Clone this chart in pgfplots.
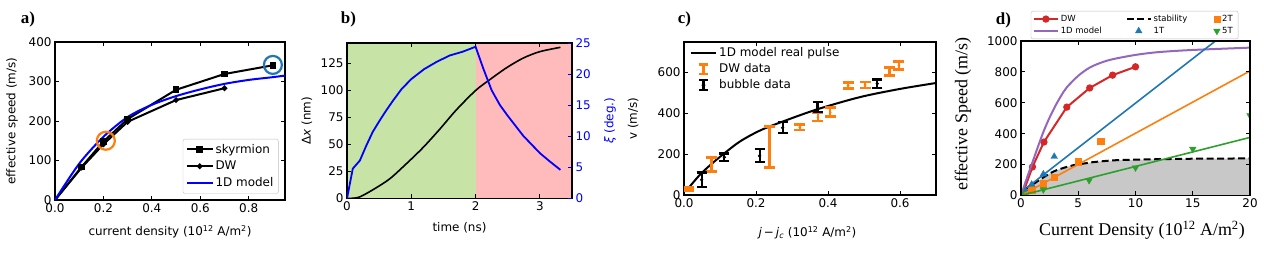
\documentclass[border=0pt]{standalone}
\usepackage{pgfplots}
\pgfplotsset{compat=1.18}
\usepackage{fontspec}
\setmainfont{DejaVu Sans}
\newfontfamily\seriffont{Liberation Serif}
\definecolor{tabblue}{RGB}{31,119,180}
\definecolor{taborange}{RGB}{255,127,14}
\definecolor{tabgreen}{RGB}{44,160,44}
\definecolor{tabred}{RGB}{214,39,40}
\definecolor{tabpurple}{RGB}{148,103,189}
\definecolor{bggreen}{RGB}{199,228,166}
\definecolor{bgpink}{RGB}{255,187,187}
\definecolor{fillgray}{RGB}{200,200,200}
\pgfplotsset{
  base/.style={
    scale only axis,
    tick align=inside,
    major tick length=4bp,
    axis line style={line width=1.2bp},
    tick style={line width=0.9bp, black},
    tick label style={font=\fontsize{12}{14}\selectfont},
    label style={font=\fontsize{12}{14}\selectfont},
    /pgf/number format/assume math mode=true,
    /pgf/number format/1000 sep={},
    scaled ticks=false,
  },
  longleg/.style={legend image code/.code={\draw[mark repeat=2,mark phase=2,##1] plot coordinates {(0cm,0cm) (0.45cm,0cm) (0.9cm,0cm)};}},
}
\begin{document}
\begin{tikzpicture}
\path[use as bounding box] (0,0) rectangle (1264bp,254bp);
\node[font=\seriffont\bfseries\fontsize{17}{20}\selectfont] at (28bp,235bp) {a)};
\node[font=\seriffont\bfseries\fontsize{17}{20}\selectfont] at (348.5bp,235bp) {b)};
\node[font=\seriffont\bfseries\fontsize{17}{20}\selectfont] at (684.5bp,235bp) {c)};
\node[font=\seriffont\bfseries\fontsize{17}{20}\selectfont] at (1003.5bp,234bp) {d)};

% ---------- panel a
\begin{axis}[base, at={(55bp,54bp)}, anchor=south west, width=230bp, height=158bp,
  xmin=0, xmax=0.95, ymin=0, ymax=400,
  xtick={0,0.2,0.4,0.6,0.8}, ytick={0,100,200,300,400},
  xticklabel style={/pgf/number format/.cd, fixed, fixed zerofill, precision=1},
  xlabel={current density (10\textsuperscript{12} A/m\textsuperscript{2})},
  ylabel={effective speed (m/s)},
  xlabel style={at={(axis description cs:0.5,-0.2)}, anchor=center},
  ylabel style={at={(axis description cs:-0.187,0.5)}, anchor=center},
  longleg,
  legend style={at={(axis description cs:0.972,0.04)}, anchor=south east,
    font=\fontsize{12}{14}\selectfont, draw=black!25, rounded corners=2bp,
    row sep=2.5bp, inner sep=3bp},
  legend cell align=left,
]
\addplot[black, line width=2bp, mark=square*, mark size=2.3bp, mark indices={2,3,4,5,6,7},
  legend image post style={mark indices={2}}]
  coordinates {(0,0) (0.11,84) (0.2,148) (0.3,205) (0.5,279) (0.7,319) (0.9,341)};
\addlegendentry{skyrmion}
\addplot[black, line width=2bp, mark=*, mark size=1.7bp, mark indices={2,3,4,5,6},
  legend image post style={mark indices={2}}]
  coordinates {(0,0) (0.11,82) (0.2,141) (0.3,198) (0.5,253) (0.7,283)};
\addlegendentry{DW}
\addplot[blue, line width=2bp, smooth]
  coordinates {(0,0) (0.1,92) (0.2,160) (0.3,210) (0.4,241) (0.5,263) (0.6,280) (0.7,294) (0.8,304) (0.9,311) (0.95,315)};
\addlegendentry{1D model}
\addplot[only marks, mark=o, mark size=9bp, taborange, line width=2.2bp, forget plot] coordinates {(0.21,150)};
\addplot[only marks, mark=o, mark size=9bp, tabblue, line width=2.2bp, forget plot] coordinates {(0.9,342)};
\end{axis}

% ---------- panel b
\begin{axis}[base, at={(347bp,55.5bp)}, anchor=south west, width=225bp, height=155.5bp,
  xmin=0, xmax=3.5, ymin=0, ymax=144, axis on top,
  xtick={0,1,2,3}, ytick={0,25,50,75,100,125}, ytick pos=left,
  xlabel={time (ns)}, ylabel={Δ{\itshape x} (nm)},
  xlabel style={at={(axis description cs:0.5,-0.19)}, anchor=center},
  ylabel style={at={(axis description cs:-0.178,0.5)}, anchor=center},
]
\addplot[fill=bggreen, draw=none] coordinates {(0,144) (2,144)} \closedcycle;
\addplot[fill=bgpink, draw=none] coordinates {(2,144) (3.5,144)} \closedcycle;
\addplot[black, line width=1.6bp, smooth]
  coordinates {(0,0) (0.1,0.3) (0.2,1.5) (0.4,8) (0.66,18) (0.92,32) (1.18,47) (1.44,64) (1.7,82) (2.0,100) (2.22,110) (2.48,121) (2.74,130) (3.0,136) (3.32,140)};
\end{axis}
\begin{axis}[base, at={(347bp,55.5bp)}, anchor=south west, width=225bp, height=155.5bp,
  xmin=0, xmax=3.5, ymin=0, ymax=25,
  axis x line=none, axis y line*=right,
  ytick={0,5,10,15,20,25},
  yticklabel style={blue}, ytick style={blue},
  ylabel={{\itshape ξ} (deg.)},
  ylabel style={blue, at={(axis description cs:1.169,0.5)}, anchor=center},
]
\addplot[blue, line width=1.8bp]
  coordinates {(0,0) (0.09,4.8) (0.2,6.1) (0.3,8.5) (0.4,10.7) (0.5,12.4) (0.6,14) (0.72,15.8) (0.85,17.6) (1.0,19.2) (1.2,20.8) (1.4,22) (1.6,23) (1.8,23.6) (2.0,24.4) (2.12,20.9) (2.25,17.4) (2.38,15) (2.5,13.3) (2.62,11.7) (2.74,10.1) (2.87,8.7) (3.0,7.3) (3.15,6) (3.32,4.6)};
\end{axis}

% ---------- panel c
\begin{axis}[base, at={(684bp,59bp)}, anchor=south west, width=252bp, height=153bp,
  xmin=0, xmax=0.7, ymin=0, ymax=750,
  xtick={0,0.2,0.4,0.6}, ytick={0,200,400,600},
  xticklabel style={/pgf/number format/.cd, fixed, fixed zerofill, precision=1},
  xlabel={{\itshape j}\,−\,{\itshape j}\textsubscript{\itshape c} (10\textsuperscript{12} A/m\textsuperscript{2})},
  ylabel={v (m/s)},
  xlabel style={at={(axis description cs:0.49,-0.248)}, anchor=center},
  ylabel style={at={(axis description cs:-0.202,0.5)}, anchor=center},
  longleg,
  legend style={at={(axis description cs:0.01,0.99)}, anchor=north west, draw=none, fill=none,
    font=\fontsize{12}{14}\selectfont, row sep=1.5bp},
  legend cell align=left,
]
\addplot[black, line width=2bp, smooth]
  coordinates {(0.012,33) (0.044,99) (0.075,150) (0.109,200) (0.156,263) (0.211,316) (0.274,360) (0.37,420) (0.489,480) (0.6,520) (0.7,549)};
\addlegendentry{1D model real pulse}
\addplot[taborange, only marks, mark=*, mark size=1.2bp,
  legend image code/.code={\draw[taborange, line width=2.6bp] (0.29cm,-0.17cm)--(0.61cm,-0.17cm) (0.29cm,0.17cm)--(0.61cm,0.17cm) (0.45cm,-0.17cm)--(0.45cm,0.17cm);},
  error bars/.cd, y dir=both, y explicit,
  error bar style={line width=2.6bp, taborange},
  error mark options={rotate=90, mark size=5.5bp, line width=2.6bp, taborange},
  ] table[x=x, y=y, y error=e] {
x y e
0.012 30 8
0.077 150 35
0.237 235 100
0.322 332 14
0.372 382 20
0.406 406 22
0.456 537 14
0.503 539 14
0.571 605 20
0.597 634 20
};
\addlegendentry{DW data}
\addplot[black, only marks, mark=*, mark size=1.5bp,
  legend image code/.code={\draw[black, line width=2.2bp] (0.29cm,-0.17cm)--(0.61cm,-0.17cm) (0.29cm,0.17cm)--(0.61cm,0.17cm) (0.45cm,-0.17cm)--(0.45cm,0.17cm); \fill[black] (0.45cm,0cm) circle (1.8bp);},
  error bars/.cd, y dir=both, y explicit,
  error bar style={line width=2.2bp, black},
  error mark options={rotate=90, mark size=5bp, line width=2.2bp, black},
  ] table[x=x, y=y, y error=e] {
x y e
0.049 75 35
0.112 185 18
0.210 192 32
0.274 330 26
0.371 432 25
0.537 546 20
};
\addlegendentry{bubble data}
\end{axis}

% ---------- panel d
\begin{axis}[base, at={(1021bp,58.5bp)}, anchor=south west, width=229bp, height=154.5bp,
  xmin=0, xmax=20, ymin=0, ymax=1000, axis on top, clip marker paths=true,
  xtick={0,5,10,15,20}, ytick={0,200,400,600,800,1000},
  xlabel={Current Density (10\textsuperscript{12} A/m\textsuperscript{2})},
  ylabel={effective Speed (m/s)},
  xlabel style={font=\seriffont\fontsize{18}{20}\selectfont, at={(axis description cs:0.528,-0.223)}, anchor=center},
  ylabel style={font=\seriffont\fontsize{18}{20}\selectfont, at={(axis description cs:-0.253,0.527)}, anchor=center},
  legend image code/.code={\draw[mark repeat=2,mark phase=2,#1] plot coordinates {(0cm,0cm) (0.42cm,0cm) (0.84cm,0cm)};},
  legend columns=3,
  legend style={at={(axis description cs:0.496,1.012)}, anchor=south, draw=black!25, rounded corners=2bp,
    font=\fontsize{8.5}{10}\selectfont, row sep=0bp, inner sep=2bp},
  legend cell align=left,
]
\addplot[fill=fillgray, draw=none, forget plot]
  coordinates {(0.3,35) (0.7,58) (1.2,80) (1.7,105) (2.2,128) (2.7,150) (3.2,166) (4,185) (4.7,198) (5.5,207) (6.2,215) (7,221) (8.2,228) (10,232) (12,235) (15,238) (20,240)} \closedcycle;
\addplot[tabred, line width=2bp, mark=*, mark size=2.6bp, mark indices={2,3,4,5,6,7},
  legend image post style={mark indices={2}}]
  coordinates {(0.2,20) (1,185) (2,346) (4,572) (6,696) (8,779) (10,833)};
\addlegendentry{\makebox[63bp][l]{DW}}
\addplot[black, line width=2bp, dash pattern=on 7bp off 3.5bp, smooth]
  coordinates {(0.3,35) (0.7,58) (1.2,80) (1.7,105) (2.2,128) (2.7,150) (3.2,166) (4,185) (4.7,198) (5.5,207) (6.2,215) (7,221) (8.2,228) (10,232) (12,235) (15,238) (20,240)};
\addlegendentry{\makebox[58bp][l]{stability}}
\addplot[taborange, only marks, mark=square*, mark size=3.2bp]
  coordinates {(0.35,18) (0.95,38) (1.95,76) (2.9,120) (5,220) (6.95,350)};
\addlegendentry{\makebox[12bp][l]{2T}}
\addplot[tabpurple, line width=2bp, smooth]
  coordinates {(0,0) (0.5,110) (1,215) (1.5,320) (2,420) (2.5,505) (3,580) (3.5,645) (4,700) (5,775) (6,828) (7,860) (8,882) (10,910) (12,928) (15,942) (20,957)};
\addlegendentry{\makebox[63bp][l]{1D model}}
\addplot[tabblue, only marks, mark=triangle*, mark size=3.8bp]
  coordinates {(0.4,30) (0.93,72) (1.95,138) (2.9,252)};
\addlegendentry{\makebox[58bp][l]{1T}}
\addplot[tabgreen, only marks, mark=triangle*, mark size=3.8bp, mark options={rotate=180}]
  coordinates {(0.3,12) (1.95,38) (5.95,98) (10,180) (15,301) (20,518)};
\addlegendentry{\makebox[12bp][l]{5T}}
\addplot[tabblue, line width=1.6bp, forget plot] coordinates {(0.5,50) (17.5,1030)};
\addplot[taborange, line width=1.6bp, forget plot] coordinates {(0.3,12) (20,806)};
\addplot[tabgreen, line width=1.6bp, forget plot] coordinates {(0.3,6) (20,376)};
\end{axis}
\end{tikzpicture}
\end{document}
